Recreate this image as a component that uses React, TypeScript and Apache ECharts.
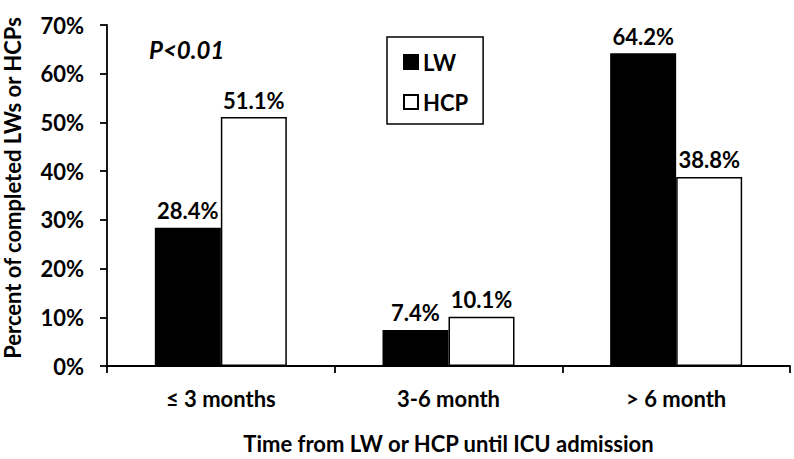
import React, { useEffect, useRef } from "react";
import * as echarts from "echarts";

const categories = ["≤ 3 months", "3-6 month", "> 6 month"];
const lwValues = [28.4, 7.4, 64.2];
const hcpValues = [51.1, 10.1, 38.8];
const yTicks = [0, 10, 20, 30, 40, 50, 60, 70];

const FONT = "Lato, 'Open Sans', sans-serif";
const FS = 22;

export default function App() {
  const ref = useRef<HTMLDivElement>(null);
  useEffect(() => {
    if (!ref.current) return;
    const chart = echarts.init(ref.current, null, { renderer: "svg" });
    const labelStyle = {
      show: true,
      position: "top" as const,
      distance: 6,
      formatter: (p: any) => p.value.toFixed(1) + "%",
      fontFamily: FONT,
      fontWeight: "bold" as const,
      fontSize: FS,
      color: "#000",
    };
    chart.setOption({
      animation: false,
      backgroundColor: "#fff",
      textStyle: { fontFamily: FONT },
      grid: { left: 107, right: 4, top: 25, bottom: 88, containLabel: false },
      legend: {
        orient: "vertical",
        left: 387,
        top: 37,
        padding: [14, 15, 11, 16],
        itemGap: 18,
        itemWidth: 14,
        itemHeight: 14,
        borderColor: "#000",
        borderWidth: 1.5,
        icon: "rect",
        textStyle: { fontFamily: FONT, fontWeight: "bold", fontSize: FS, color: "#000" },
        data: ["LW", "HCP"],
      },
      graphic: [
        {
          type: "text",
          x: 149,
          y: 49,
          style: {
            text: "P<0.01",
            fontFamily: FONT,
            fontWeight: "bold",
            fontStyle: "italic",
            fontSize: 24,
            fill: "#000",
            textVerticalAlign: "middle",
          },
        },
        {
          type: "text",
          x: 12,
          y: 188,
          rotation: Math.PI / 2,
          style: {
            text: "Percent of completed LWs or HCPs",
            fontFamily: FONT,
            fontWeight: "bold",
            fontSize: FS,
            fill: "#000",
            textAlign: "center",
            textVerticalAlign: "middle",
          },
        },
      ],
      xAxis: {
        type: "category",
        data: categories,
        name: "Time from LW or HCP until ICU admission",
        nameLocation: "middle",
        nameGap: 66,
        nameTextStyle: { fontFamily: FONT, fontWeight: "bold", fontSize: FS, color: "#000" },
        axisLine: { lineStyle: { color: "#000", width: 1.8 } },
        axisTick: { show: true, length: 7, lineStyle: { color: "#000", width: 1.8 } },
        axisLabel: { margin: 21, fontFamily: FONT, fontWeight: "bold", fontSize: FS, color: "#000" },
        splitLine: { show: false },
      },
      yAxis: {
        type: "value",
        min: 0,
        max: yTicks[yTicks.length - 1],
        interval: 10,
        axisLine: { show: true, lineStyle: { color: "#000", width: 1.8 } },
        axisTick: { show: true, length: 7, lineStyle: { color: "#000", width: 1.8 } },
        axisLabel: {
          margin: 23,
          formatter: "{value}%",
          fontFamily: FONT,
          fontWeight: "bold",
          fontSize: FS,
          color: "#000",
        },
        splitLine: { show: false },
      },
      series: [
        {
          name: "LW",
          type: "bar",
          data: lwValues,
          barWidth: 66,
          barGap: "0%",
          itemStyle: { color: "#000", borderColor: "#000", borderWidth: 1.5 },
          label: labelStyle,
        },
        {
          name: "HCP",
          type: "bar",
          data: hcpValues,
          barWidth: 66,
          barGap: "0%",
          itemStyle: { color: "#fff", borderColor: "#000", borderWidth: 1.5 },
          label: labelStyle,
        },
      ],
    });
    return () => chart.dispose();
  }, []);
  return <div ref={ref} style={{ width: 794, height: 459, position: "absolute", left: 0, top: 0 }} />;
}
